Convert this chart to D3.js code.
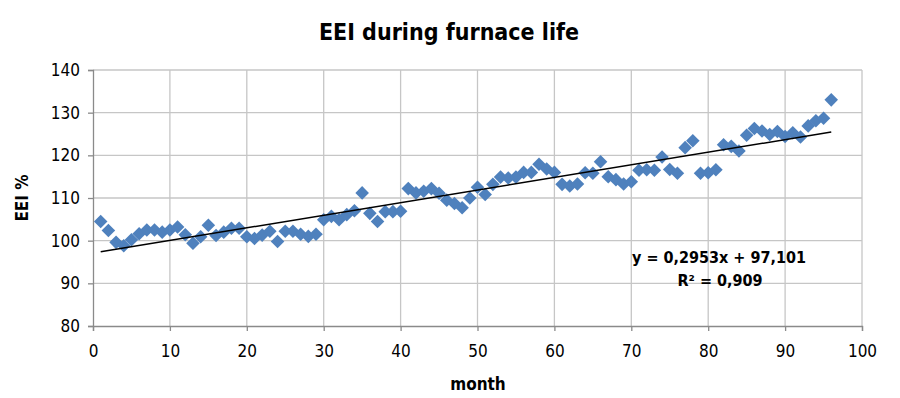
<!DOCTYPE html>
<html>
<head>
<meta charset="utf-8">
<script src="https://d3js.org/d3.v7.min.js"></script>
<style>
  body { margin: 0; background: #fff; }
  text { font-family: "Liberation Sans Narrow", "DejaVu Sans Condensed", sans-serif; }
</style>
</head>
<body>
<div id="chart"></div>
<script>
var width = 900, height = 398;

// EEI % per month
var months = d3.range(1, 97);
var eei = [
  104.5, 102.4, 99.6, 98.8, 100.2, 101.6, 102.5, 102.5, 102.0, 102.5,
  103.2, 101.4, 99.4, 100.9, 103.6, 101.2, 102.0, 102.9, 102.9, 100.9,
  100.5, 101.3, 102.2, 99.8, 102.2, 102.2, 101.5, 101.0, 101.5, 104.9,
  105.7, 104.9, 106.1, 107.0, 111.2, 106.4, 104.5, 106.8, 106.8, 106.9,
  112.2, 111.2, 111.6, 112.2, 111.1, 109.5, 108.7, 107.7, 110.0, 112.5,
  110.8, 113.2, 114.9, 114.7, 114.9, 116.0, 116.0, 117.9, 116.8, 116.0,
  113.2, 112.8, 113.3, 115.9, 115.8, 118.5, 115.0, 114.3, 113.3, 113.8,
  116.5, 116.6, 116.5, 119.6, 116.7, 115.8, 121.8, 123.4, 115.8, 115.9,
  116.6, 122.5, 122.1, 121.0, 124.7, 126.3, 125.7, 124.9, 125.6, 124.4,
  125.3, 124.3, 126.9, 128.1, 128.7, 133.0
];
var slope = 0.2953, intercept = 97.101;
var xTicks = d3.range(0, 101, 10);
var yTicks = d3.range(80, 141, 10);

var margin = {left: 93, right: 38, top: 70, bottom: 72};
var x = d3.scaleLinear().domain([0, 100]).range([margin.left, width - margin.right]);
var y = d3.scaleLinear().domain([80, 140]).range([height - margin.bottom, margin.top]);

var svg = d3.select("#chart").append("svg")
  .attr("width", width).attr("height", height);

// gridlines
svg.append("g").selectAll("line.h").data(yTicks.slice(1)).enter().append("line")
  .attr("x1", x(0)).attr("x2", x(100))
  .attr("y1", d => y(d)).attr("y2", d => y(d))
  .attr("stroke", "#c6c6c6").attr("stroke-width", 1.3);
svg.append("g").selectAll("line.v").data(xTicks.slice(1)).enter().append("line")
  .attr("x1", d => x(d)).attr("x2", d => x(d))
  .attr("y1", y(80)).attr("y2", y(140))
  .attr("stroke", "#c6c6c6").attr("stroke-width", 1.3);

// axes
var xAxis = svg.append("g")
  .attr("transform", "translate(0," + y(80) + ")")
  .call(d3.axisBottom(x).tickValues(xTicks).tickSize(5).tickPadding(14));
var yAxis = svg.append("g")
  .attr("transform", "translate(" + x(0) + ",0)")
  .call(d3.axisLeft(y).tickValues(yTicks).tickSize(5).tickPadding(8));
[xAxis, yAxis].forEach(function(a) {
  a.select(".domain").attr("stroke", "#8a8a8a").attr("stroke-width", 1.3);
  a.selectAll(".tick line").attr("stroke", "#8a8a8a").attr("stroke-width", 1.3);
  a.selectAll(".tick text").attr("fill", "#000").style("font-size", "17px");
});

// points
svg.append("g").selectAll("path").data(months).enter().append("path")
  .attr("d", d3.symbol(d3.symbolSquare, 92))
  .attr("transform", (d, i) => "translate(" + x(d) + "," + y(eei[i]) + ") rotate(45)")
  .attr("fill", "#4f81bd");

// linear trend line
svg.append("line")
  .attr("x1", x(1)).attr("y1", y(slope * 1 + intercept))
  .attr("x2", x(96)).attr("y2", y(slope * 96 + intercept))
  .attr("stroke", "#000").attr("stroke-width", 1.5);

// trend equation
svg.append("text").attr("x", 719).attr("y", 263).attr("text-anchor", "middle")
  .style("font-size", "16px").style("font-weight", "bold")
  .text("y = 0,2953x + 97,101");
svg.append("text").attr("x", 720).attr("y", 286).attr("text-anchor", "middle")
  .style("font-size", "16px").style("font-weight", "bold")
  .text("R² = 0,909");

// titles
svg.append("text").attr("x", 449).attr("y", 40).attr("text-anchor", "middle")
  .style("font-size", "23px").style("font-weight", "bold")
  .text("EEI during furnace life");
svg.append("text").attr("x", 478).attr("y", 390).attr("text-anchor", "middle")
  .style("font-size", "17px").style("font-weight", "bold")
  .text("month");
svg.append("text").attr("transform", "translate(28,198) rotate(-90)")
  .attr("text-anchor", "middle")
  .style("font-size", "17px").style("font-weight", "bold")
  .text("EEI %");
</script>
</body>
</html>
